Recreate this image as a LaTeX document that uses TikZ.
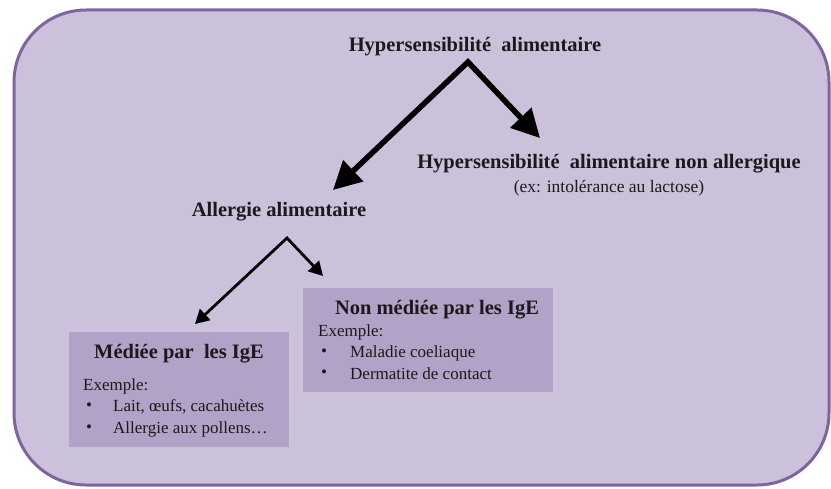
\documentclass[tikz,border=0pt]{standalone}
\usepackage{fontspec}
\setmainfont{Liberation Serif}
\usetikzlibrary{arrows.meta}
\definecolor{outerfill}{HTML}{CCC1DA}
\definecolor{outerline}{HTML}{8064A2}
\definecolor{boxfill}{HTML}{B3A2C7}
\definecolor{txt}{HTML}{1A1A1A}
\tikzset{
  bigtitle/.style={inner sep=0pt, text=txt, font=\fontsize{20.5}{24}\selectfont\bfseries},
  subtxt/.style={inner sep=0pt, text=txt, font=\fontsize{17.5}{20}\selectfont},
  bodytxt/.style={inner sep=0pt, anchor=west, text=txt, font=\fontsize{17}{20}\selectfont},
  subbox/.style={fill=boxfill, draw=none, anchor=north west, inner sep=0pt},
  bigarrow/.style={line width=5.5pt, line join=miter, {Triangle[length=28pt,width=28pt]}-{Triangle[length=28pt,width=28pt]}},
  smallarrow/.style={line width=2.8pt, line join=miter, {Triangle[length=14pt,width=15pt]}-{Triangle[length=14pt,width=15pt]}},
}
\begin{document}
\begin{tikzpicture}[x=1pt,y=-1pt]
\useasboundingbox (0,0) rectangle (831,489);
% outer frame
\draw[fill=outerfill, draw=outerline, line width=3pt, rounded corners=72pt] (14,10) rectangle (829,485);

% boxes
\node[subbox, minimum width=220pt, minimum height=115pt] (box1) at (69,332) {};
\node[subbox, minimum width=250pt, minimum height=104pt] (box2) at (303,288) {};

% titles
\node[bigtitle] (hyper) at (475,47) {Hypersensibilité~ alimentaire};
\node[bigtitle] (nonall) at (609,164) {Hypersensibilité~ alimentaire non allergique};
\node[subtxt] (ex) at (609,188) {(ex: intolérance au lactose)};
\node[bigtitle] (allergie) at (279,212) {Allergie alimentaire};

% arrow coordinates
\coordinate (apex1) at (468,62);
\coordinate (tipL1) at (333,190);
\coordinate (tipR1) at (540,138);
\coordinate (apex2) at (287,238);
\coordinate (tipL2) at (195,324);
\coordinate (tipR2) at (323,276);
\draw[bigarrow] (tipL1) -- (apex1) -- (tipR1);
\draw[smallarrow] (tipL2) -- (apex2) -- (tipR2);

% box 1 content
\node[bigtitle] (t1) at (179,354) {Médiée par~ les IgE};
\node[bodytxt] (e1) at (83,386) {Exemple:};
\node[bodytxt] (b11) at (86,407) {•};
\node[bodytxt] (i11) at (113,407) {Lait, œufs, cacahuètes};
\node[bodytxt] (b12) at (86,429) {•};
\node[bodytxt] (i12) at (113,429) {Allergie aux pollens…};

% box 2 content
\node[bigtitle] (t2) at (437,310) {Non médiée par les IgE};
\node[bodytxt] (e2) at (318,332) {Exemple:};
\node[bodytxt] (b21) at (321,353) {•};
\node[bodytxt] (i21) at (350,353) {Maladie coeliaque};
\node[bodytxt] (b22) at (321,374) {•};
\node[bodytxt] (i22) at (350,374) {Dermatite de contact};
\end{tikzpicture}
\end{document}
